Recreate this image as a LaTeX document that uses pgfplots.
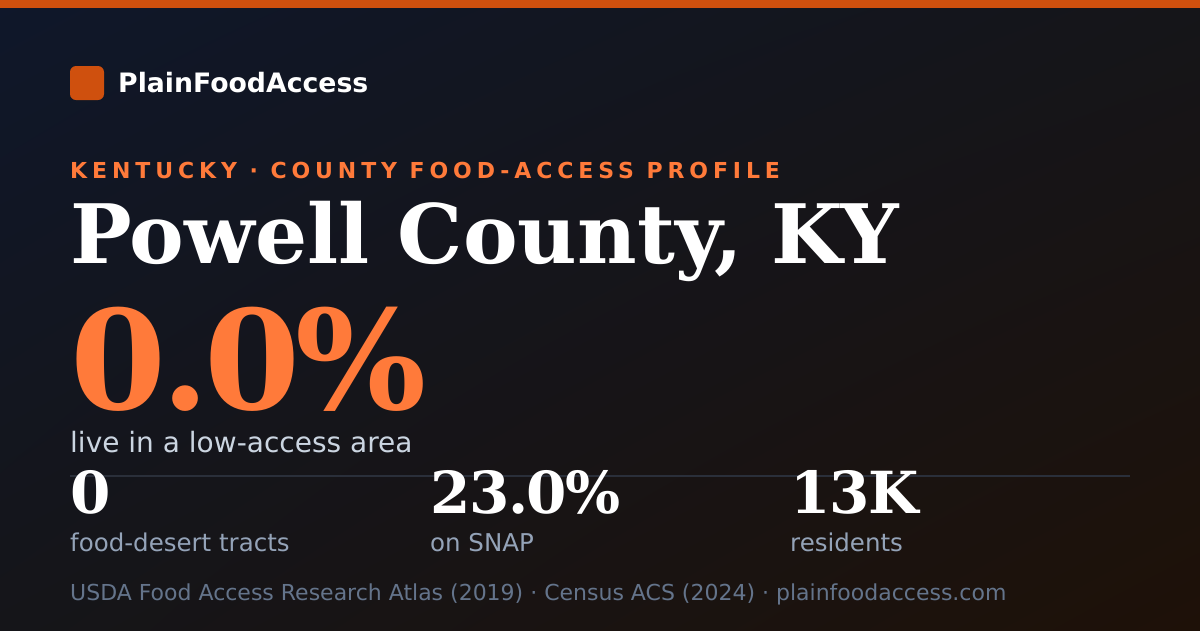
\documentclass[border=0pt]{standalone}
\usepackage{pgfplots}
\pgfplotsset{compat=1.18}
\usetikzlibrary{shadings}
\usepackage{fontspec}
\setmainfont{DejaVu Sans}
\newfontfamily\seriff{DejaVu Serif}
\newfontfamily\serifbig{DejaVu Serif}[LetterSpace=-3.5]
\newfontfamily\serifstat{DejaVu Serif}[LetterSpace=-2.5]
\newfontfamily\spaced{DejaVu Sans}[LetterSpace=22.3]
\definecolor{bgA}{HTML}{0F172A}
\definecolor{bgM}{HTML}{151519}
\definecolor{bgB}{HTML}{1E1108}
\definecolor{barorange}{HTML}{CF500E}
\definecolor{lightorange}{HTML}{FF7A3A}
\definecolor{subtxt}{HTML}{CBD5E1}
\definecolor{lbltxt}{HTML}{94A3B8}
\definecolor{foottxt}{HTML}{64748B}
\definecolor{divider}{HTML}{2A2F3A}
\begin{document}
\begin{tikzpicture}
\begin{axis}[
  width=1200pt, height=630pt, scale only axis,
  xmin=0, xmax=1200, ymin=0, ymax=630, y dir=reverse,
  hide axis, clip=false,
]
\addplot[draw=none] coordinates {(0,0) (1200,630)};
\shade[upper left=bgA, lower right=bgB, upper right=bgM, lower left=bgM]
  (axis cs:0,0) rectangle (axis cs:1200,630);
\fill[barorange] (axis cs:0,0) rectangle (axis cs:1200,8);
\fill[barorange, rounded corners=6pt] (axis cs:70,66) rectangle (axis cs:104,100);
\node[anchor=base west, inner sep=0pt, text=white, font=\fontsize{26.7}{30}\selectfont\bfseries]
  at (axis cs:118,92) {PlainFoodAccess};
\node[anchor=base west, inner sep=0pt, text=lightorange, font=\fontsize{22}{26}\selectfont\spaced\bfseries]
  at (axis cs:70,178) {KENTUCKY · COUNTY FOOD-ACCESS PROFILE};
\node[anchor=base west, inner sep=0pt, text=white, font=\fontsize{82}{90}\selectfont\seriff\bfseries]
  at (axis cs:70,263) {Powell County, KY};
\node[anchor=base west, inner sep=0pt, text=lightorange, font=\fontsize{138}{150}\selectfont\serifbig\bfseries]
  at (axis cs:70,409) {0.0\%};
\node[anchor=base west, inner sep=0pt, text=subtxt, font=\fontsize{28}{32}\selectfont]
  at (axis cs:70,452) {live in a low-access area};
\draw[divider, line width=2pt] (axis cs:70,476) -- (axis cs:1130,476);
\node[anchor=base west, inner sep=0pt, text=white, font=\fontsize{58}{64}\selectfont\serifstat\bfseries]
  at (axis cs:70,513) {0};
\node[anchor=base west, inner sep=0pt, text=white, font=\fontsize{58}{64}\selectfont\serifstat\bfseries]
  at (axis cs:430,513) {23.0\%};
\node[anchor=base west, inner sep=0pt, text=white, font=\fontsize{58}{64}\selectfont\serifstat\bfseries]
  at (axis cs:790,513) {13K};
\node[anchor=base west, inner sep=0pt, text=lbltxt, font=\fontsize{24.5}{28}\selectfont]
  at (axis cs:70,551) {food-desert tracts};
\node[anchor=base west, inner sep=0pt, text=lbltxt, font=\fontsize{24.5}{28}\selectfont]
  at (axis cs:430,551) {on SNAP};
\node[anchor=base west, inner sep=0pt, text=lbltxt, font=\fontsize{24.5}{28}\selectfont]
  at (axis cs:790,551) {residents};
\node[anchor=base west, inner sep=0pt, text=foottxt, font=\fontsize{22}{26}\selectfont]
  at (axis cs:70,600) {USDA Food Access Research Atlas (2019) · Census ACS (2024) · plainfoodaccess.com};
\end{axis}
\end{tikzpicture}
\end{document}
